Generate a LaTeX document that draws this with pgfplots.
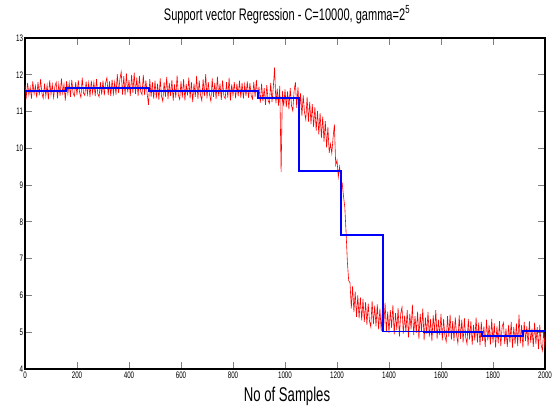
\documentclass[border=0pt]{standalone}
\usepackage{fontspec}
\setmainfont{Liberation Sans}[FakeStretch=0.66]
\usepackage{pgfplots}
\pgfplotsset{compat=1.18}
\definecolor{svrblue}{RGB}{0,0,255}
\definecolor{svrred}{RGB}{255,0,0}
\begin{document}
\begin{tikzpicture}
\path[use as bounding box] (-25bp,-38bp) rectangle (534bp,369bp);
\begin{axis}[
  at={(0,0)}, anchor=south west,
  scale only axis, width=520bp, height=331bp,
  xmin=0, xmax=2000, ymin=4, ymax=13,
  xtick={0,200,...,2000}, ytick={4,5,...,13},
  tick align=inside,
  xtick pos=both, ytick pos=both,
  major tick length=7bp,
  tick style={line width=0.9pt},
  axis line style={line width=1.1pt},
  /pgf/number format/assume math mode=true,
  /pgf/number format/1000 sep={},
  tick label style={font=\fontsize{9.5}{10}\selectfont},
  xticklabel style={yshift=1bp},
  yticklabel style={xshift=1.5bp},
  title={Support vector Regression - C=10000, gamma=2\textsuperscript{5}},
  title style={font=\fontsize{16.8}{17}\selectfont, yshift=5bp, xshift=2bp},
  xlabel={No of Samples},
  xlabel style={font=\fontsize{20}{20}\selectfont, yshift=-2bp, xshift=2bp},
]
\addplot[draw=svrred, line width=0.6pt] table[row sep=\\, header=false, x expr=\coordindex*5, y index=0] {
11.72\\11.40\\11.78\\11.45\\11.66\\11.35\\11.82\\11.48\\11.70\\11.38\\
11.80\\11.44\\11.88\\11.50\\11.36\\11.76\\11.42\\11.72\\11.33\\11.85\\
11.46\\11.74\\11.38\\11.68\\11.80\\11.36\\11.75\\11.43\\11.90\\11.50\\
11.74\\11.30\\11.83\\11.48\\11.78\\11.40\\11.86\\11.50\\11.42\\11.80\\
11.45\\11.85\\11.52\\11.38\\11.92\\11.50\\11.44\\11.82\\11.47\\11.78\\
11.40\\11.84\\11.50\\11.80\\11.42\\11.88\\11.48\\11.40\\11.80\\11.46\\
11.84\\11.44\\11.78\\11.92\\11.45\\11.82\\11.42\\11.87\\11.48\\11.80\\
11.46\\12.02\\11.50\\11.88\\12.08\\11.46\\11.96\\11.44\\12.04\\11.52\\
11.86\\11.42\\12.00\\11.50\\12.06\\11.48\\11.92\\11.42\\11.97\\11.54\\
11.46\\12.00\\11.45\\11.85\\11.48\\11.18\\11.88\\11.40\\11.80\\11.35\\
11.84\\11.36\\11.76\\11.32\\11.90\\11.42\\11.28\\11.80\\11.40\\11.94\\
11.34\\11.78\\11.42\\11.86\\11.30\\11.74\\11.38\\11.98\\11.44\\11.33\\
11.82\\11.38\\11.88\\11.30\\11.75\\11.44\\11.92\\11.36\\11.80\\11.26\\
11.76\\11.40\\11.97\\11.34\\11.84\\11.45\\11.30\\11.88\\11.42\\12.02\\
11.36\\11.80\\11.45\\11.28\\11.90\\11.40\\11.78\\11.34\\11.95\\11.42\\
11.76\\11.32\\11.85\\11.42\\11.35\\11.80\\11.38\\11.92\\11.30\\11.74\\
11.44\\11.80\\11.36\\11.76\\11.42\\11.84\\11.38\\11.78\\11.35\\11.74\\
11.42\\11.82\\11.37\\11.77\\11.44\\11.34\\11.80\\11.40\\11.86\\11.36\\
11.68\\11.24\\11.76\\11.28\\11.64\\11.18\\11.72\\11.30\\11.22\\11.78\\
11.26\\11.66\\12.20\\11.22\\11.62\\11.16\\11.70\\9.35\\11.56\\11.14\\
11.60\\11.12\\11.55\\11.06\\11.64\\11.16\\11.02\\11.56\\11.80\\11.10\\
11.66\\10.92\\11.50\\10.88\\11.44\\10.98\\10.78\\11.40\\10.72\\11.26\\
10.66\\11.20\\10.58\\11.12\\10.48\\11.02\\10.38\\10.96\\10.28\\10.86\\
10.18\\10.74\\10.02\\10.58\\9.88\\10.12\\9.86\\10.30\\10.65\\9.55\\
9.68\\9.22\\9.50\\9.15\\9.05\\8.70\\8.40\\7.70\\6.90\\6.40\\
6.35\\5.65\\6.25\\5.55\\6.10\\5.42\\6.00\\5.38\\5.95\\5.32\\
5.90\\5.28\\5.82\\5.20\\5.78\\5.30\\5.14\\5.85\\5.22\\5.72\\
5.16\\5.76\\5.08\\5.64\\5.04\\5.68\\5.18\\5.80\\5.00\\5.56\\
4.98\\5.60\\5.12\\5.74\\4.94\\5.52\\5.06\\5.66\\4.88\\5.50\\
5.68\\4.96\\5.45\\5.00\\5.60\\4.86\\5.50\\5.08\\5.75\\4.92\\
5.44\\4.98\\5.56\\4.82\\5.50\\5.02\\5.64\\4.78\\5.40\\4.96\\
5.55\\4.88\\5.36\\4.76\\5.46\\5.00\\5.60\\4.82\\5.34\\4.92\\
5.50\\4.78\\5.36\\4.90\\4.74\\5.44\\4.88\\5.48\\4.80\\5.30\\
4.76\\5.40\\4.92\\4.70\\5.46\\4.82\\5.34\\4.72\\5.38\\4.86\\
4.68\\5.36\\4.80\\5.30\\4.66\\5.20\\4.78\\5.40\\4.72\\5.26\\
4.64\\5.28\\4.76\\5.16\\4.60\\5.34\\4.78\\5.20\\4.66\\5.36\\
4.72\\5.24\\4.58\\5.16\\4.70\\5.30\\4.62\\5.14\\5.26\\4.68\\
5.10\\4.60\\5.20\\4.72\\5.28\\4.58\\5.14\\4.68\\5.24\\4.62\\
5.48\\4.70\\5.20\\4.58\\5.28\\4.76\\5.16\\4.62\\5.30\\4.72\\
5.10\\4.60\\5.26\\4.68\\5.14\\4.54\\5.20\\4.66\\4.50\\5.06\\
4.58\\
};
\addplot[draw=svrblue, line width=1.9bp, line join=miter] coordinates {
(0,11.57) (156,11.57) (156,11.63) (477,11.63) (477,11.55) (799,11.55)
(799,11.56) (897,11.56) (897,11.37) (1055,11.37) (1055,9.38) (1217,9.38)
(1217,7.65) (1376,7.65) (1376,5.02) (1536,5.02) (1536,5.00) (1756,5.00)
(1756,4.89) (1917,4.89) (1917,5.03) (2000,5.03)
};
\end{axis}
\end{tikzpicture}
\end{document}
